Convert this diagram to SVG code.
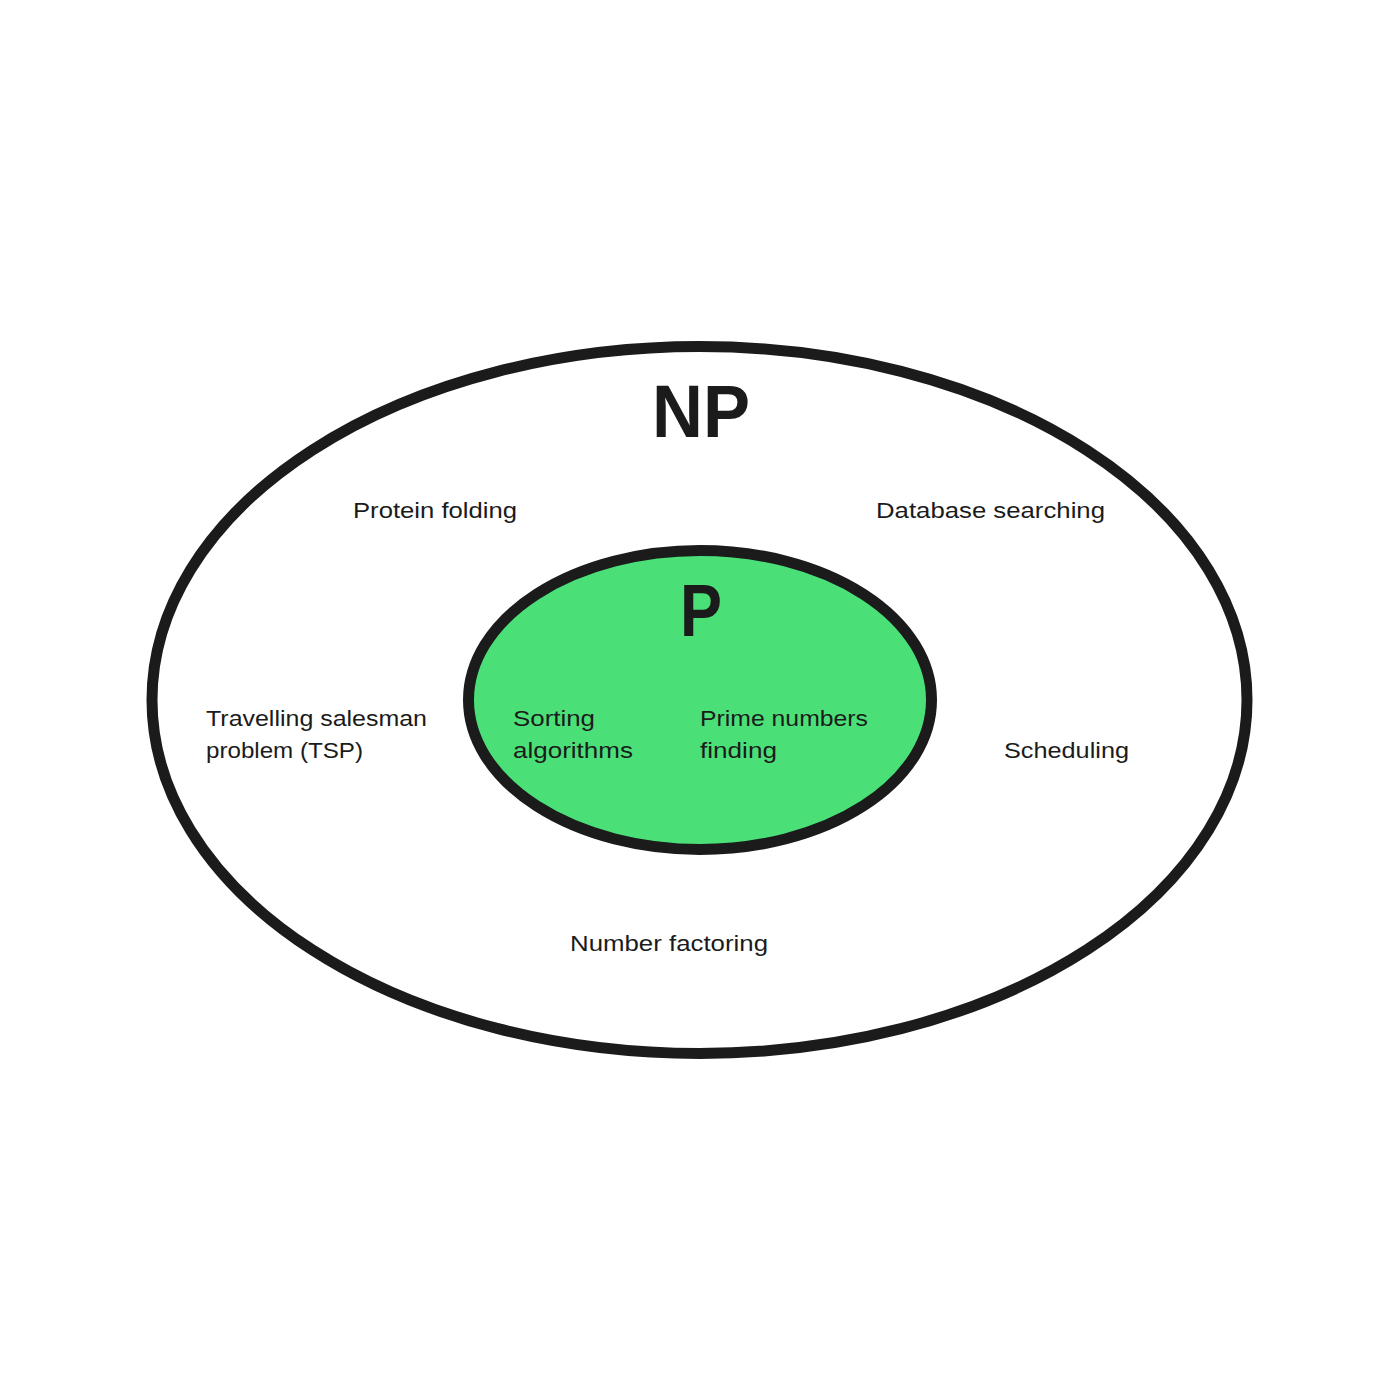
<svg xmlns="http://www.w3.org/2000/svg" width="1400" height="1400" viewBox="0 0 1400 1400">
<style>
.ring{stroke:#1b1b1b;stroke-width:11}
.lbl{font-family:"Liberation Sans",Arial,sans-serif;font-size:22px;fill:#1b1b1b}
.big{font-family:"Liberation Sans",Arial,sans-serif;font-size:74px;font-weight:bold;fill:#1b1b1b;text-anchor:middle}
</style>
<rect width="1400" height="1400" fill="#ffffff"/>
<g id="np">
<ellipse class="ring" cx="699.5" cy="700" rx="547.5" ry="353.5" fill="#ffffff"/>
<text class="big" x="701" y="437" textLength="98" lengthAdjust="spacingAndGlyphs">NP</text>
<text class="lbl" x="353" y="518" textLength="164" lengthAdjust="spacingAndGlyphs">Protein folding</text>
<text class="lbl" x="876" y="518" textLength="229" lengthAdjust="spacingAndGlyphs">Database searching</text>
<text class="lbl" x="206" y="726" textLength="221" lengthAdjust="spacingAndGlyphs">Travelling salesman</text>
<text class="lbl" x="206" y="758" textLength="157" lengthAdjust="spacingAndGlyphs">problem (TSP)</text>
<text class="lbl" x="1004" y="758" textLength="125" lengthAdjust="spacingAndGlyphs">Scheduling</text>
<text class="lbl" x="570" y="951" textLength="198" lengthAdjust="spacingAndGlyphs">Number factoring</text>
</g>
<g id="p">
<ellipse class="ring" cx="700" cy="700" rx="231.5" ry="149.5" fill="#4ae077"/>
<text class="big" x="701" y="636" textLength="42" lengthAdjust="spacingAndGlyphs">P</text>
<text class="lbl" x="513" y="726" textLength="82" lengthAdjust="spacingAndGlyphs">Sorting</text>
<text class="lbl" x="513" y="758" textLength="120" lengthAdjust="spacingAndGlyphs">algorithms</text>
<text class="lbl" x="700" y="726" textLength="168" lengthAdjust="spacingAndGlyphs">Prime numbers</text>
<text class="lbl" x="700" y="758" textLength="77" lengthAdjust="spacingAndGlyphs">finding</text>
</g>
<g id="connectors"></g>
</svg>
